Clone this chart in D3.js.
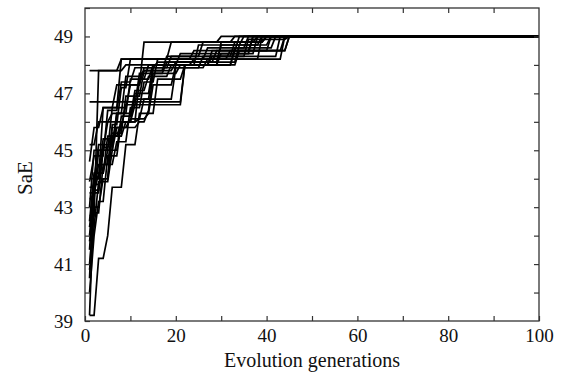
<!DOCTYPE html>
<html>
<head>
<meta charset="utf-8">
<script src="https://cdn.jsdelivr.net/npm/d3@7"></script>
<style>
  body { margin: 0; background: #fff; }
  text { font-family: "Liberation Serif", "Times New Roman", serif; fill: #111; }
</style>
</head>
<body>
<svg id="chart"></svg>
<script>
// x / y tick values
const xTickLabels = [0, 20, 40, 60, 80, 100];
const yTickLabels = [39, 41, 43, 45, 47, 49];
const lastGen = 100;

// each run: [generation, best SaE] at the generations where the best value changes
const run01 = [[1,39.2],[3,41.2],[5,42.0],[6,43.7],[9,45.2],[12,46.3],[16,47.5],[22,48.0],[33,48.6],[42,49]];
const run02 = [[1,39.2],[2,43.5],[4,45.0],[7,46.3],[10,47.5],[14,48.0],[28,48.5],[37,49]];
const run03 = [[1,47.8],[8,48.2],[24,48.5],[34,49]];
const run04 = [[1,46.7],[18,46.7],[22,48.0],[34,48.5],[44,49]];
const run05 = [[1,40.5],[2,44.0],[4,46.5],[10,47.3],[13,47.9],[19,48.3],[33,48.8],[40,49]];
const run06 = [[1,43.7],[3,44.5],[6,45.8],[9,46.6],[12,47.7],[18,48.1],[30,48.7],[39,49]];
const run07 = [[1,42.5],[2,44.2],[5,45.5],[8,46.0],[11,47.0],[15,48.0],[24,48.2],[44,49]];
const run08 = [[1,41.8],[2,43.0],[4,44.0],[6,45.9],[8,47.2],[10,48.2],[19,48.8],[30,49]];
const run09 = [[1,43.0],[2,45.0],[5,46.0],[12,46.1],[14,46.3],[15,47.3],[20,48.0],[33,48.5],[45,49]];
const run10 = [[1,44.0],[3,45.2],[7,46.3],[11,46.8],[15,47.9],[26,48.3],[36,48.9],[45,49]];
const run11 = [[1,41.0],[2,42.8],[4,44.5],[7,45.3],[10,46.5],[13,47.4],[16,48.2],[27,48.6],[36,49]];
const run12 = [[1,40.0],[2,42.0],[3,43.2],[5,44.8],[8,46.0],[11,46.6],[22,48.0],[30,48.4],[38,49]];
const run13 = [[1,44.6],[2,45.8],[4,46.5],[7,47.3],[13,48.8],[40,49]];
const run14 = [[1,43.3],[3,45.0],[6,46.5],[8,48.2],[32,48.5],[41,49]];
const run15 = [[1,42.0],[2,43.8],[4,44.0],[6,45.5],[9,46.0],[12,47.5],[15,48.0],[30,48.8],[38,49]];
const run16 = [[1,45.2],[3,46.0],[6,46.3],[9,47.6],[13,47.8],[18,48.3],[26,48.8],[33,49]];
const run17 = [[1,41.5],[2,44.0],[4,45.4],[7,45.8],[12,46.0],[14,46.4],[15,47.7],[21,48.0],[28,48.3],[43,49]];
const run18 = [[1,43.9],[2,44.8],[5,46.4],[8,47.4],[11,47.9],[16,48.1],[34,48.7],[41,49]];
const run19 = [[1,42.3],[2,43.6],[4,45.1],[6,45.6],[9,46.9],[13,47.8],[20,48.1],[29,48.5],[45,49]];
const run20 = [[1,40.8],[2,42.3],[3,43.9],[6,45.0],[8,46.2],[11,47.1],[14,47.6],[19,48.0],[25,48.7],[35,49]];
const run21 = [[1,42.7],[3,47.8],[9,48.0],[21,48.4],[37,49]];
const run22 = [[1,43.5],[3,44.2],[5,45.0],[7,45.8],[10,46.1],[13,46.8],[20,47.9],[27,48.2],[39,49]];

const runs = [run01, run02, run03, run04, run05, run06, run07, run08, run09, run10, run11,
              run12, run13, run14, run15, run16, run17, run18, run19, run20, run21, run22];

const W = 567, H = 383;
const margin = {top: 8, right: 28, bottom: 62, left: 85};
const width = W - margin.left - margin.right;
const height = H - margin.top - margin.bottom;

const svg = d3.select('#chart').attr('width', W).attr('height', H);
const chart = svg.append('g').attr('transform', `translate(${margin.left},${margin.top})`);

const xScale = d3.scaleLinear().domain([0, 100]).range([0, width]);
const yScale = d3.scaleLinear().domain([39, 50]).range([height, 0]);

// turn change points into path vertices: hold the old value until one
// generation before the change, then climb to the new value
function toPath(run) {
    const pts = [run[0]];
    for (let i = 1; i < run.length; i++) {
        const prev = pts[pts.length - 1];
        const g = run[i][0];
        if (g - 1 > prev[0]) pts.push([g - 1, prev[1]]);
        pts.push(run[i]);
    }
    pts.push([lastGen, run[run.length - 1][1]]);
    return pts;
}

const line = d3.line()
    .x(d => xScale(d[0]))
    .y(d => yScale(d[1]));

chart.append('g')
    .selectAll('path')
    .data(runs)
    .join('path')
    .attr('d', d => line(toPath(d)))
    .attr('fill', 'none')
    .attr('stroke', '#000')
    .attr('stroke-width', 1.7)
    .attr('stroke-linejoin', 'miter');

// axes, ticks pointing inwards
const axisColor = '#333';
const fmt = v => xTickLabels.includes(v) ? v : '';
const fmtY = v => yTickLabels.includes(v) ? v : '';

const xAxis = d3.axisBottom(xScale).tickValues(d3.range(0, 101, 10)).tickSize(-5).tickSizeOuter(0).tickPadding(8).tickFormat(fmt);
const xTop = d3.axisTop(xScale).tickValues(d3.range(10, 100, 10)).tickSize(-5).tickSizeOuter(0).tickFormat('');
const yAxis = d3.axisLeft(yScale).tickValues(d3.range(39, 51, 1)).tickSize(-5).tickSizeOuter(0).tickPadding(12).tickFormat(fmtY);
const yRight = d3.axisRight(yScale).tickValues(d3.range(40, 50, 1)).tickSize(-5).tickSizeOuter(0).tickFormat('');

function style(g) {
    g.select('.domain').remove();
    g.selectAll('line').attr('stroke', axisColor).attr('stroke-width', 1.2);
    g.selectAll('text').attr('font-size', 19).attr('fill', '#111')
        .style('font-family', '"Liberation Serif", serif');
}

chart.append('g').attr('transform', `translate(0,${height})`).call(xAxis).call(style);
chart.append('g').call(xTop).call(style);
chart.append('g').call(yAxis).call(style);
chart.append('g').attr('transform', `translate(${width},0)`).call(yRight).call(style);

chart.append('rect')
    .attr('width', width).attr('height', height)
    .attr('fill', 'none').attr('stroke', axisColor).attr('stroke-width', 1.3);

svg.append('text')
    .attr('x', margin.left + width / 2)
    .attr('y', 367)
    .attr('text-anchor', 'middle')
    .attr('font-size', 20)
    .text('Evolution generations');

svg.append('text')
    .attr('transform', 'translate(32,178) rotate(-90)')
    .attr('text-anchor', 'middle')
    .attr('font-size', 21)
    .text('SaE');
</script>
</body>
</html>
